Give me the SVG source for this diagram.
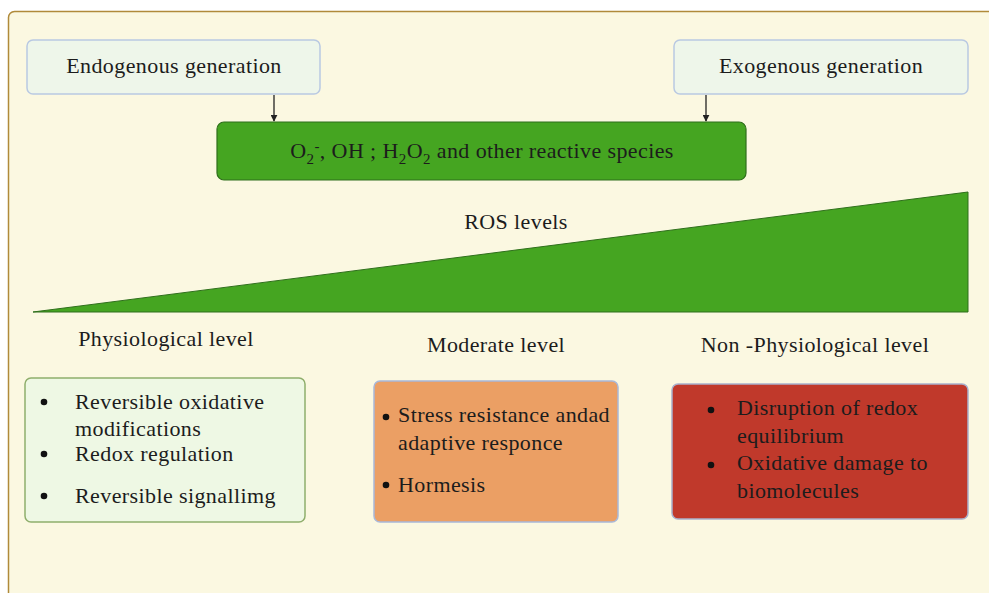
<svg xmlns="http://www.w3.org/2000/svg" width="989" height="593" viewBox="0 0 989 593">
<defs>
<marker id="arr" viewBox="0 0 10 10" refX="9" refY="5" markerWidth="7" markerHeight="7" markerUnits="userSpaceOnUse" orient="auto"><path d="M0,0 L10,5 L0,10 z" fill="#222"/></marker>
<style>
text{font-family:"Liberation Serif","Times New Roman",serif;fill:#1c1c1c;font-size:22px;letter-spacing:0.4px}
.src{fill:#eef6ea;stroke:#b9c9e2;stroke-width:1.5}
.bul{fill:#111}
</style>
</defs>
<rect x="0" y="0" width="989" height="593" fill="#ffffff"/>
<rect x="8.5" y="11.5" width="1000" height="600" rx="6" fill="#fbf8e1" stroke="#b08a3a" stroke-width="1.5"/>
<g id="endogenous">
<rect class="src" x="27" y="40" width="293" height="54" rx="6"/>
<text x="174" y="73" text-anchor="middle">Endogenous generation</text>
</g>
<g id="exogenous">
<rect class="src" x="674" y="40" width="294" height="54" rx="6"/>
<text x="821" y="73" text-anchor="middle">Exogenous generation</text>
</g>
<g id="ros-species">
<rect x="217" y="122" width="529" height="58" rx="7" fill="#45a521" stroke="#2f6f1c" stroke-width="1.2"/>
<text x="482" y="158" text-anchor="middle">O<tspan font-size="15" dy="6">2</tspan><tspan font-size="15" dy="-13">-</tspan><tspan dy="7">, OH ; H</tspan><tspan font-size="15" dy="6">2</tspan><tspan dy="-6">O</tspan><tspan font-size="15" dy="6">2</tspan><tspan dy="-6"> and other reactive species</tspan></text>
</g>
<g id="connectors">
<line x1="274" y1="95" x2="274" y2="121" stroke="#222" stroke-width="1.3" marker-end="url(#arr)"/>
<line x1="706" y1="95" x2="706" y2="121" stroke="#222" stroke-width="1.3" marker-end="url(#arr)"/>
</g>
<g id="ros-levels">
<polygon points="33,312 968,192 968,312" fill="#45a521" stroke="#2f6f1c" stroke-width="1"/>
<text x="516" y="229" text-anchor="middle">ROS levels</text>
</g>
<g id="level-labels">
<text x="166" y="346" text-anchor="middle">Physiological level</text>
<text x="496" y="352" text-anchor="middle">Moderate level</text>
<text x="815" y="352" text-anchor="middle">Non -Physiological level</text>
</g>
<g id="physiological">
<rect x="25" y="378" width="280" height="144" rx="6" fill="#eef8e4" stroke="#8fae6c" stroke-width="1.5"/>
<circle class="bul" cx="44" cy="402" r="3.3"/>
<circle class="bul" cx="44" cy="454" r="3.3"/>
<circle class="bul" cx="44" cy="496" r="3.3"/>
<text x="75" y="409">Reversible oxidative</text>
<text x="75" y="436">modifications</text>
<text x="75" y="461">Redox regulation</text>
<text x="75" y="503">Reversible signallimg</text>
</g>
<g id="moderate">
<rect x="374" y="381" width="244" height="141" rx="6" fill="#eb9f64" stroke="#a9b8d8" stroke-width="1.5"/>
<circle class="bul" cx="386" cy="417" r="3.3"/>
<circle class="bul" cx="386" cy="485" r="3.3"/>
<text x="398" y="422">Stress resistance andad</text>
<text x="398" y="450">adaptive responce</text>
<text x="398" y="492">Hormesis</text>
</g>
<g id="non-physiological">
<rect x="672" y="384" width="296" height="135" rx="6" fill="#c0392b" stroke="#a9b0cc" stroke-width="1.5"/>
<circle class="bul" cx="711" cy="410" r="3.3"/>
<circle class="bul" cx="711" cy="465" r="3.3"/>
<text x="737" y="415">Disruption of redox</text>
<text x="737" y="443">equilibrium</text>
<text x="737" y="470">Oxidative damage to</text>
<text x="737" y="498">biomolecules</text>
</g>
</svg>
